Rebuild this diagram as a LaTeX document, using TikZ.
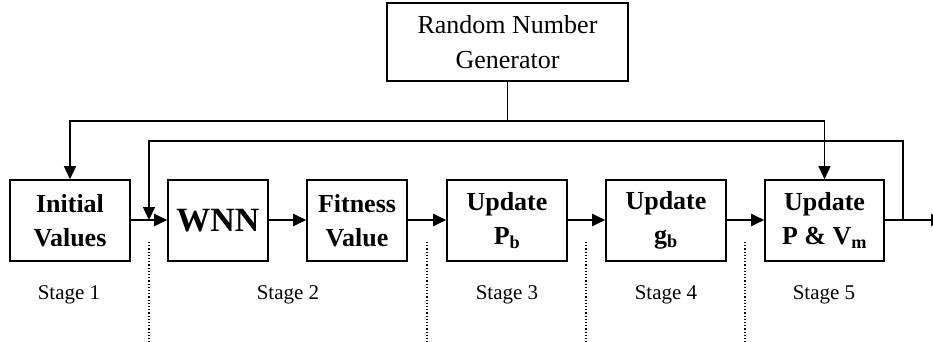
\documentclass[tikz,border=0pt]{standalone}
\usepackage{fontspec}
\setmainfont{Liberation Serif}
\usetikzlibrary{arrows.meta}
\begin{document}
\begin{tikzpicture}[x=1pt,y=-1pt,
  blk/.style={draw,line width=1.6pt,minimum height=81pt,inner sep=0pt,align=center,
    font=\fontsize{26}{34}\selectfont\bfseries},
  arr/.style={line width=2pt,-{Triangle[length=13pt,width=12pt]}},
  feed/.style={line width=1.5pt},
  sep/.style={line width=1.2pt,dotted},
  stagelbl/.style={font=\fontsize{21}{25}\selectfont}]
\useasboundingbox (0,0) rectangle (933,342);
\clip (0,0) rectangle (933,342);
\node[draw,line width=1.5pt,minimum width=241pt,minimum height=78pt,align=center,
  font=\fontsize{26}{35}\selectfont] (rng) at (507.5,42) {Random Number\\Generator};
\node[blk,minimum width=120pt] (init) at (70,220.5) {Initial\\Values};
\node[blk,minimum width=100pt,font=\fontsize{34}{40}\selectfont\bfseries] (wnn) at (218,220.5) {WNN};
\node[blk,minimum width=100pt] (fit) at (357,220.5) {Fitness\\Value};
\node[blk,minimum width=120pt] (pb) at (507,220.5) {Update\\P\textsubscript{b}};
\node[blk,minimum width=120pt] (gb) at (666,220.5) {Update\\g\textsubscript{b}};
\node[blk,minimum width=119pt] (pv) at (824.5,220.5) {Update\\P \& V\textsubscript{m}};
\coordinate (out) at (944,220);
\coordinate (j1) at (903,220);
\coordinate (j2) at (149,220);
\coordinate (t) at (507.5,121);
\coordinate (t2) at (903,141);
% main chain
\draw[arr] (init.east |- 0,220) -- (wnn.west |- 0,220);
\draw[arr] (wnn.east |- 0,220) -- (fit.west |- 0,220);
\draw[arr] (fit.east |- 0,220) -- (pb.west |- 0,220);
\draw[arr] (pb.east |- 0,220) -- (gb.west |- 0,220);
\draw[arr] (gb.east |- 0,220) -- (pv.west |- 0,220);
\draw[arr] (pv.east |- 0,220) -- (out);
% random number generator feeds
\draw[feed] (rng.south) -- (t);
\draw[feed,-{Triangle[length=13pt,width=12pt]}] (t) -| (init.north);
\draw[feed,-{Triangle[length=13pt,width=12pt]}] (t) -| (pv.north);
% feedback loop
\draw[feed,-{Triangle[length=13pt,width=12pt]}] (j1) -- (t2) -| (j2);
% stage separators
\coordinate (s1a) at (149,242); \coordinate (s1b) at (149,342);
\coordinate (s2a) at (427,242); \coordinate (s2b) at (427,342);
\coordinate (s3a) at (586,242); \coordinate (s3b) at (586,342);
\coordinate (s4a) at (745,242); \coordinate (s4b) at (745,342);
\draw[sep] (s1a) -- (s1b);
\draw[sep] (s2a) -- (s2b);
\draw[sep] (s3a) -- (s3b);
\draw[sep] (s4a) -- (s4b);
% stage labels
\node[stagelbl] (st1) at (69,295) {Stage 1};
\node[stagelbl] (st2) at (288,295) {Stage 2};
\node[stagelbl] (st3) at (507,295) {Stage 3};
\node[stagelbl] (st4) at (666,295) {Stage 4};
\node[stagelbl] (st5) at (824,295) {Stage 5};
\end{tikzpicture}
\end{document}
